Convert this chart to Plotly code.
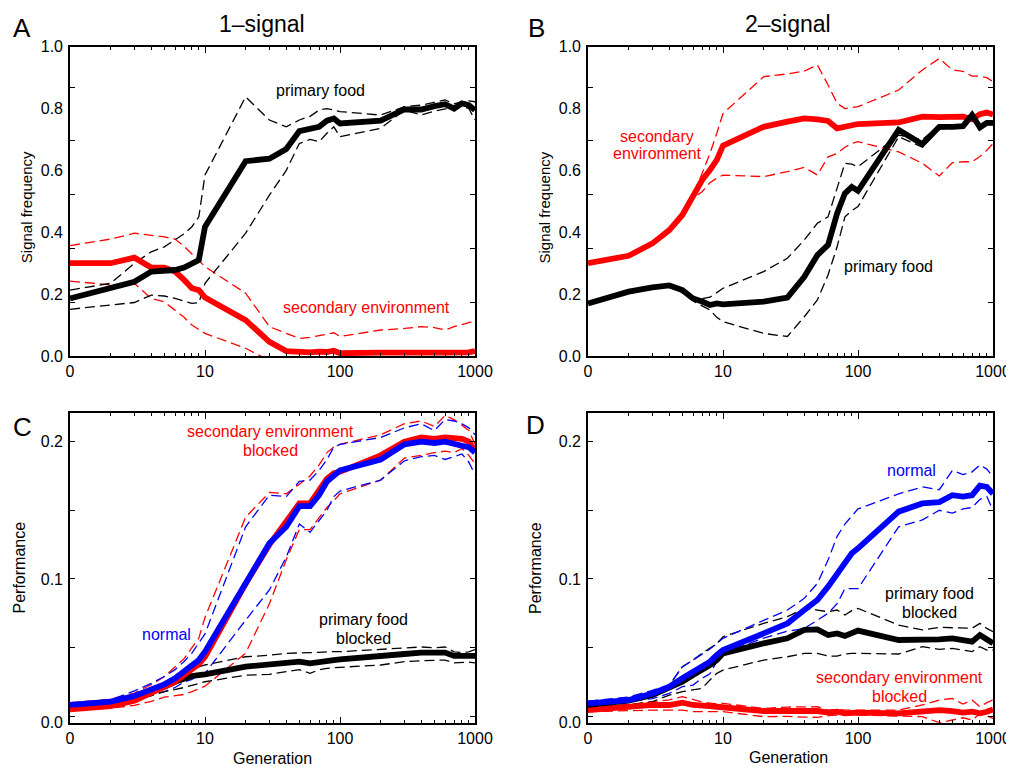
import plotly.graph_objects as go

# ---------------- data ----------------
generations = [1, 2, 3, 4, 5, 6, 7, 8, 9, 10, 20, 30, 40, 50, 60, 70, 80, 90, 100,
               200, 300, 400, 500, 600, 700, 800, 900, 1000]
gen_tick_vals = [1, 10, 100, 1000]
gen_tick_text = ["0", "10", "100", "1000"]

# Panel A: 1-signal, signal frequency
a_food_mean = [0.186, 0.219, 0.240, 0.273, 0.276, 0.278, 0.286, 0.300, 0.310, 0.418, 0.630, 0.638,
               0.669, 0.727, 0.736, 0.741, 0.761, 0.768, 0.752, 0.761, 0.797, 0.797, 0.808, 0.814,
               0.800, 0.817, 0.811, 0.795]
a_food_hi = [0.213, 0.235, 0.300, 0.337, 0.353, 0.375, 0.395, 0.418, 0.450, 0.585, 0.838, 0.763,
             0.741, 0.763, 0.775, 0.795, 0.800, 0.795, 0.790, 0.779, 0.806, 0.811, 0.820, 0.828,
             0.815, 0.822, 0.825, 0.822]
a_food_lo = [0.151, 0.165, 0.173, 0.197, 0.194, 0.186, 0.178, 0.170, 0.172, 0.235, 0.397, 0.520,
             0.600, 0.687, 0.700, 0.693, 0.720, 0.741, 0.709, 0.736, 0.795, 0.779, 0.792, 0.800,
             0.805, 0.808, 0.800, 0.763]
a_env_mean = [0.300, 0.300, 0.318, 0.286, 0.286, 0.273, 0.246, 0.219, 0.213, 0.189, 0.116, 0.046,
              0.016, 0.012, 0.012, 0.014, 0.013, 0.017, 0.009, 0.011, 0.013, 0.012, 0.011, 0.011,
              0.011, 0.012, 0.012, 0.016]
a_env_hi = [0.357, 0.378, 0.397, 0.391, 0.385, 0.378, 0.355, 0.330, 0.310, 0.289, 0.203, 0.095,
            0.073, 0.057, 0.060, 0.066, 0.070, 0.075, 0.063, 0.084, 0.089, 0.095, 0.092, 0.084,
            0.095, 0.102, 0.108, 0.111]
a_env_lo = [0.242, 0.230, 0.235, 0.186, 0.175, 0.149, 0.125, 0.100, 0.085, 0.073, 0.025, -0.015,
            -0.03, -0.03, -0.03, -0.03, -0.03, -0.03, -0.03, -0.03, -0.03, -0.03, -0.03, -0.03,
            -0.03, -0.03, -0.03, -0.03]

# Panel B: 2-signal, signal frequency
b_env_mean = [0.300, 0.324, 0.364, 0.407, 0.456, 0.515, 0.569, 0.601, 0.634, 0.680, 0.741, 0.758,
              0.768, 0.765, 0.760, 0.736, 0.741, 0.746, 0.750, 0.755, 0.774, 0.772, 0.774, 0.774,
              0.765, 0.782, 0.787, 0.781]
b_env_hi = [0.300, 0.324, 0.364, 0.407, 0.456, 0.520, 0.590, 0.655, 0.720, 0.784, 0.903, 0.912,
            0.921, 0.941, 0.876, 0.817, 0.800, 0.803, 0.806, 0.860, 0.925, 0.962, 0.925, 0.920,
            0.905, 0.905, 0.900, 0.887]
b_env_lo = [0.300, 0.324, 0.364, 0.407, 0.456, 0.510, 0.531, 0.560, 0.575, 0.585, 0.580, 0.596,
            0.610, 0.585, 0.644, 0.655, 0.675, 0.687, 0.693, 0.660, 0.623, 0.582, 0.625, 0.628,
            0.628, 0.645, 0.665, 0.687]
b_food_mean = [0.170, 0.208, 0.222, 0.228, 0.213, 0.186, 0.176, 0.165, 0.170, 0.167, 0.176, 0.189,
               0.256, 0.326, 0.359, 0.461, 0.526, 0.547, 0.534, 0.731, 0.685, 0.741, 0.741, 0.743,
               0.779, 0.739, 0.754, 0.754]
b_food_hi = [0.170, 0.208, 0.222, 0.230, 0.215, 0.190, 0.185, 0.190, 0.205, 0.219, 0.273, 0.316,
             0.375, 0.429, 0.450, 0.547, 0.623, 0.620, 0.612, 0.714, 0.700, 0.745, 0.745, 0.750,
             0.785, 0.745, 0.760, 0.760]
b_food_lo = [0.170, 0.208, 0.222, 0.226, 0.205, 0.178, 0.162, 0.149, 0.125, 0.111, 0.073, 0.063,
             0.127, 0.181, 0.262, 0.353, 0.450, 0.470, 0.483, 0.709, 0.675, 0.735, 0.735, 0.738,
             0.772, 0.733, 0.748, 0.748]

# Panel C: 1-signal, performance
c_normal_mean = [0.0083, 0.0107, 0.0148, 0.0192, 0.0233, 0.0277, 0.0325, 0.0367, 0.0410, 0.0471,
                 0.0981, 0.126, 0.138, 0.153, 0.153, 0.161, 0.171, 0.176, 0.179, 0.187, 0.198,
                 0.200, 0.199, 0.200, 0.198, 0.197, 0.196, 0.192]
c_normal_hi = [0.0095, 0.012, 0.0185, 0.024, 0.029, 0.034, 0.040, 0.046, 0.0535, 0.060, 0.138,
               0.161, 0.160, 0.171, 0.172, 0.179, 0.187, 0.196, 0.198, 0.203, 0.210, 0.213, 0.208,
               0.216, 0.215, 0.213, 0.210, 0.205]
c_normal_lo = [0.0075, 0.0095, 0.012, 0.016, 0.018, 0.021, 0.025, 0.027, 0.030, 0.0313, 0.070,
               0.092, 0.116, 0.140, 0.134, 0.143, 0.150, 0.160, 0.164, 0.172, 0.186, 0.189, 0.190,
               0.187, 0.189, 0.191, 0.185, 0.176]
c_envblk_mean = [0.0051, 0.0075, 0.0114, 0.0167, 0.0211, 0.0252, 0.0301, 0.0342, 0.0381, 0.0434,
                 0.0965, 0.125, 0.141, 0.155, 0.155, 0.164, 0.173, 0.177, 0.178, 0.190, 0.200,
                 0.203, 0.202, 0.203, 0.202, 0.202, 0.200, 0.193]
c_envblk_hi = [0.010, 0.0125, 0.017, 0.023, 0.029, 0.036, 0.042, 0.050, 0.057, 0.072, 0.145,
               0.163, 0.162, 0.169, 0.175, 0.183, 0.192, 0.196, 0.198, 0.205, 0.213, 0.215, 0.211,
               0.219, 0.216, 0.212, 0.208, 0.198]
c_envblk_lo = [0.005, 0.006, 0.008, 0.011, 0.014, 0.015, 0.016, 0.018, 0.020, 0.022, 0.046,
               0.082, 0.114, 0.136, 0.136, 0.145, 0.152, 0.157, 0.162, 0.172, 0.188, 0.190, 0.192,
               0.193, 0.192, 0.195, 0.190, 0.184]
c_foodblk_mean = [0.0078, 0.010, 0.0143, 0.0180, 0.0216, 0.0252, 0.0277, 0.0294, 0.0301, 0.0306,
                  0.0362, 0.0374, 0.0386, 0.0398, 0.0386, 0.0398, 0.0405, 0.041, 0.0415, 0.0434,
                  0.0454, 0.0464, 0.046, 0.0464, 0.044, 0.044, 0.044, 0.044]
c_foodblk_hi = [0.0085, 0.011, 0.016, 0.020, 0.024, 0.028, 0.031, 0.034, 0.036, 0.0374, 0.0434,
                0.0445, 0.0459, 0.0464, 0.0464, 0.0466, 0.047, 0.0472, 0.0471, 0.0486, 0.050,
                0.0505, 0.050, 0.0505, 0.047, 0.0465, 0.047, 0.0486]
c_foodblk_lo = [0.007, 0.009, 0.012, 0.015, 0.018, 0.0194, 0.021, 0.0226, 0.024, 0.0252, 0.030,
                0.0306, 0.0325, 0.034, 0.0313, 0.034, 0.035, 0.0355, 0.0357, 0.0374, 0.0398,
                0.0405, 0.041, 0.041, 0.039, 0.0395, 0.0395, 0.039]

# Panel D: 2-signal, performance
d_normal_mean = [0.0095, 0.0119, 0.0167, 0.0216, 0.0277, 0.0325, 0.0362, 0.0398, 0.0447, 0.0483,
                 0.0604, 0.0677, 0.0774, 0.0847, 0.0944, 0.1041, 0.1114, 0.1187, 0.1223, 0.149,
                 0.155, 0.156, 0.161, 0.160, 0.161, 0.168, 0.167, 0.162]
d_normal_hi = [0.011, 0.014, 0.019, 0.0228, 0.036, 0.041, 0.0447, 0.049, 0.053, 0.0568, 0.0699,
               0.0774, 0.0859, 0.0968, 0.1138, 0.131, 0.140, 0.146, 0.151, 0.162, 0.167, 0.165,
               0.179, 0.176, 0.178, 0.183, 0.180, 0.1745]
d_normal_lo = [0.008, 0.0107, 0.013, 0.0167, 0.0216, 0.0228, 0.0277, 0.031, 0.040, 0.0459, 0.057,
               0.062, 0.064, 0.070, 0.075, 0.082, 0.093, 0.093, 0.093, 0.138, 0.143, 0.150, 0.148,
               0.151, 0.152, 0.158, 0.160, 0.150]
d_foodblk_mean = [0.0083, 0.0114, 0.0155, 0.0204, 0.0252, 0.0301, 0.0337, 0.0374, 0.0410, 0.0459,
                  0.0532, 0.0568, 0.0629, 0.0633, 0.0592, 0.0604, 0.0585, 0.061, 0.0624, 0.0556,
                  0.0556, 0.0561, 0.0568, 0.056, 0.0544, 0.0592, 0.0565, 0.0532]
d_foodblk_hi = [0.0095, 0.012, 0.0167, 0.0225, 0.0362, 0.041, 0.0459, 0.050, 0.053, 0.058, 0.0677,
                0.0726, 0.0786, 0.0774, 0.0762, 0.0774, 0.0738, 0.077, 0.0786, 0.0665, 0.0629,
                0.0648, 0.0645, 0.0641, 0.0641, 0.0677, 0.064, 0.0617]
d_foodblk_lo = [0.007, 0.0083, 0.0107, 0.0155, 0.018, 0.0192, 0.0204, 0.0265, 0.0313, 0.0337,
                0.041, 0.0434, 0.0459, 0.0459, 0.0439, 0.0439, 0.0454, 0.0458, 0.0459, 0.0454,
                0.0507, 0.0488, 0.0495, 0.0483, 0.0471, 0.0507, 0.0483, 0.0483]
d_envblk_mean = [0.0046, 0.007, 0.0083, 0.0083, 0.010, 0.0083, 0.0083, 0.0075, 0.007, 0.0066,
                 0.0039, 0.0039, 0.0039, 0.0039, 0.0027, 0.0034, 0.0022, 0.0025, 0.0027, 0.0022,
                 0.0034, 0.0046, 0.0039, 0.0027, 0.0034, 0.0022, 0.0034, 0.0051]
d_envblk_hi = [0.0058, 0.0085, 0.0107, 0.012, 0.0143, 0.012, 0.0105, 0.0097, 0.009, 0.0095,
               0.0058, 0.0068, 0.0070, 0.0070, 0.0046, 0.005, 0.0046, 0.0046, 0.0046, 0.0046,
               0.0083, 0.0119, 0.013, 0.009, 0.0119, 0.007, 0.010, 0.012]
d_envblk_lo = [0.0034, 0.0045, 0.0046, 0.0046, 0.0046, 0.0034, 0.0034, 0.0034, 0.0034, 0.0034,
               -0.0002, 0.0, -0.0005, -0.0007, 0.0005, 0.001, 0.001, 0.0015, 0.001, 0.0002,
               -0.0002, -0.0046, -0.0027, -0.001, -0.0027, 0.002, 0.0005, -0.0015]

freq_tick_vals = [0.0, 0.2, 0.4, 0.6, 0.8, 1.0]
freq_tick_text = ["0.0", "0.2", "0.4", "0.6", "0.8", "1.0"]

# ---------------- styling ----------------
RED, BLUE, BLACK = "#ff0000", "#0000ff", "#000000"
FONT = "Liberation Sans, Arial, Helvetica, sans-serif"
PAGE_W, PAGE_H = 1014, 767
OFF = 8                      # default page body margin in the browser
W, H = PAGE_W - OFF, PAGE_H - OFF
SOLID_W = 5.8
DASH_W = 1.3
DASH = "10px,5px"


def px_x(px):
    return (px - OFF) / W


def px_y(py):
    return 1 - (py - OFF) / H


fig = go.Figure()


def add_series(ax, ys, color, solid):
    fig.add_trace(go.Scatter(
        x=generations, y=ys, mode="lines", xaxis="x" + ax, yaxis="y" + ax,
        line=dict(color=color, width=SOLID_W if solid else DASH_W,
                  dash="solid" if solid else DASH),
        showlegend=False, hoverinfo="skip"))


# Panel A (axes "" -> x/y)
for ys, c, s in [(a_env_lo, RED, False), (a_env_hi, RED, False),
                 (a_food_lo, BLACK, False), (a_food_hi, BLACK, False),
                 (a_env_mean, RED, True), (a_food_mean, BLACK, True)]:
    add_series("", ys, c, s)
# Panel B
for ys, c, s in [(b_env_lo, RED, False), (b_env_hi, RED, False),
                 (b_food_lo, BLACK, False), (b_food_hi, BLACK, False),
                 (b_env_mean, RED, True), (b_food_mean, BLACK, True)]:
    add_series("2", ys, c, s)
# Panel C
for ys, c, s in [(c_envblk_lo, RED, False), (c_envblk_hi, RED, False),
                 (c_normal_lo, BLUE, False), (c_normal_hi, BLUE, False),
                 (c_foodblk_lo, BLACK, False), (c_foodblk_hi, BLACK, False),
                 (c_foodblk_mean, BLACK, True), (c_envblk_mean, RED, True),
                 (c_normal_mean, BLUE, True)]:
    add_series("3", ys, c, s)
# Panel D
for ys, c, s in [(d_envblk_lo, RED, False), (d_envblk_hi, RED, False),
                 (d_foodblk_lo, BLACK, False), (d_foodblk_hi, BLACK, False),
                 (d_normal_lo, BLUE, False), (d_normal_hi, BLUE, False),
                 (d_envblk_mean, RED, True), (d_foodblk_mean, BLACK, True),
                 (d_normal_mean, BLUE, True)]:
    add_series("4", ys, c, s)

x_minor = [m * 10 ** k for k in range(3) for m in range(2, 10)]


def xaxis(dom, anchor):
    return dict(domain=dom, anchor=anchor, type="log", range=[0, 3], automargin=False,
                tickmode="array", tickvals=gen_tick_vals, ticktext=gen_tick_text,
                ticks="inside", ticklen=6, tickwidth=1, tickcolor=BLACK,
                minor=dict(tickmode="array", tickvals=x_minor, ticks="inside",
                           ticklen=3, tickwidth=1, tickcolor=BLACK),
                showline=True, linecolor=BLACK, linewidth=1.6, mirror="allticks",
                showgrid=False, zeroline=False,
                tickfont=dict(family=FONT, size=16, color=BLACK))


freq_minor = [k * 0.2 / 1.15 for k in range(1, 6)]
perf_range = [-0.0046, 0.2206]
perf_label_vals = [perf_range[0], 0.1, 0.2]
perf_label_text = ["0.0", "0.1", "0.2"]
perf_minor = [0.0, 0.05, 0.1, 0.15, 0.2]


def yaxis(dom, anchor, rng, tv, tt, minor_vals):
    return dict(domain=dom, anchor=anchor, range=rng, automargin=False,
                tickmode="array", tickvals=tv, ticktext=tt, ticks="",
                minor=dict(tickmode="array", tickvals=minor_vals, ticks="inside",
                           ticklen=5, tickwidth=1, tickcolor=BLACK),
                showline=True, linecolor=BLACK, linewidth=1.6, mirror="allticks",
                showgrid=False, zeroline=False, ticklabelstandoff=2,
                tickfont=dict(family=FONT, size=16, color=BLACK))


xl = [px_x(70), px_x(475)]
xr = [px_x(588), px_x(993)]
yt = [px_y(356), px_y(46.7)]
yb = [px_y(722.7), px_y(413.3)]

fig.update_layout(
    width=W, height=H, margin=dict(l=0, r=0, t=0, b=0, autoexpand=False),
    paper_bgcolor="white", plot_bgcolor="white",
    font=dict(family=FONT, color=BLACK),
    xaxis=xaxis(xl, "y"), yaxis=yaxis(yt, "x", [0, 1], freq_tick_vals, freq_tick_text, freq_minor),
    xaxis2=xaxis(xr, "y2"), yaxis2=yaxis(yt, "x2", [0, 1], freq_tick_vals, freq_tick_text, freq_minor),
    xaxis3=xaxis(xl, "y3"), yaxis3=yaxis(yb, "x3", perf_range, perf_label_vals, perf_label_text, perf_minor),
    xaxis4=xaxis(xr, "y4"), yaxis4=yaxis(yb, "x4", perf_range, perf_label_vals, perf_label_text, perf_minor),
)


def note(text, px, py, size=16, color=BLACK, angle=0):
    fig.add_annotation(text=text, x=px_x(px), y=px_y(py), xref="paper", yref="paper",
                       xanchor="center", yanchor="middle", showarrow=False, textangle=angle,
                       font=dict(family=FONT, size=size, color=color))


# panel letters and titles
note("A", 22, 28, 26)
note("B", 536, 28, 26)
note("C", 22, 427, 26)
note("D", 535.5, 425, 26)
note("1–signal", 262.5, 24, 23)
note("2–signal", 788, 24, 23)
# axis titles
note("Signal frequency", 26.7, 207.5, 15, angle=-90)
note("Signal frequency", 544, 207.5, 15, angle=-90)
note("Performance", 18.5, 568, 16, angle=-90)
note("Performance", 535, 568, 16, angle=-90)
note("Generation", 272, 758, 16)
note("Generation", 788, 757, 16)
# series labels
note("primary food", 320.7, 90)
note("secondary environment", 366, 307.3, color=RED)
note("secondary", 657.3, 136, color=RED)
note("environment", 657.3, 153.3, color=RED)
note("primary food", 888.3, 266.7)
note("secondary environment", 270, 431.7, color=RED)
note("blocked", 270, 450.7, color=RED)
note("normal", 166.7, 634, color=BLUE)
note("primary food", 363.3, 619)
note("blocked", 363.3, 638.3)
note("normal", 911.7, 470.7, color=BLUE)
note("primary food", 929, 593.3)
note("blocked", 929, 612.3)
note("secondary environment", 899, 677.7, color=RED)
note("blocked", 899, 696.7, color=RED)

fig.write_html("out.html")
